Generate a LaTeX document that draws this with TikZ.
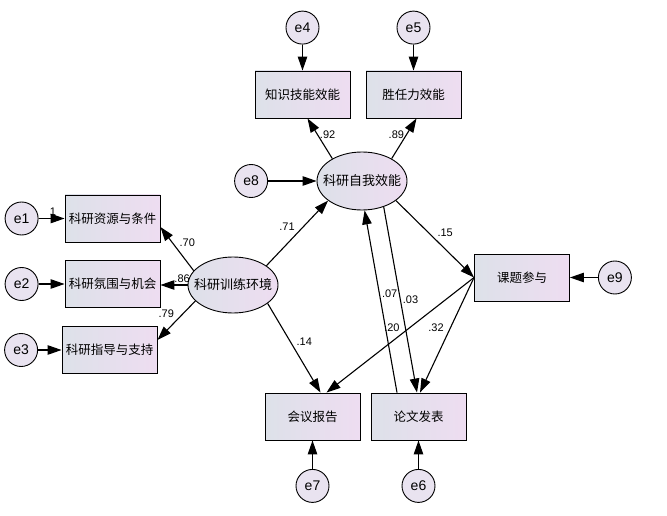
\documentclass[tikz,border=0pt]{standalone}
\usepackage{fontspec}
\setmainfont{Liberation Sans}
\newfontfamily\cjk{Noto Sans CJK SC}
\usetikzlibrary{positioning, shapes.geometric, arrows.meta}
\definecolor{boxl}{RGB}{221,225,233}
\definecolor{boxr}{RGB}{238,221,241}
\definecolor{errc}{RGB}{233,227,240}

\begin{document}
\begin{tikzpicture}[x=1pt, y=-1pt, node distance=26pt,
    >={Triangle[length=14pt, width=9.5pt]},
    obs/.style={draw, line width=0.9pt, minimum width=95pt, minimum height=47pt, left color=boxl, right color=boxr, font=\cjk\fontsize{12.5}{14}\selectfont},
    lat/.style={draw, ellipse, line width=0.9pt, minimum width=90pt, minimum height=56pt, inner sep=-8pt, left color=boxl, right color=boxr, font=\cjk\fontsize{13}{15}\selectfont},
    err/.style={draw, circle, line width=0.9pt, minimum size=33pt, inner sep=0pt, fill=errc, font=\fontsize{14}{16}\selectfont},
    coef/.style={font=\fontsize{11}{13}\selectfont, inner sep=2pt}]
    \useasboundingbox (0,0) rectangle (667,516);
    \node[lat] (env) at (233,285) {科研训练环境};
    \node[lat, minimum height=58pt] (self) at (362,181) {科研自我效能};
    \node[obs] (res) at (112.5,218.5) {科研资源与条件};
    \node[obs] (atm) at (112.5,284) {科研氛围与机会};
    \node[obs] (guide) at (109.5,350) {科研指导与支持};
    \node[obs] (know) at (302.5,94.5) {知识技能效能};
    \node[obs] (comp) at (413.5,94.5) {胜任力效能};
    \node[obs] (topic) at (522,277.5) {课题参与};
    \node[obs] (conf) at (312.5,416.5) {会议报告};
    \node[obs] (paper) at (418.5,416.5) {论文发表};
    % errors
    \node[err, left=of res] (e1) {e1};
    \node[err, left=of atm] (e2) {e2};
    \node[err, left=23.5pt of guide] (e3) {e3};
    \node[err, above=of know] (e4) {e4};
    \node[err, above=of comp] (e5) {e5};
    \node[err, below=28.5pt of paper] (e6) {e6};
    \node[err, below=28.5pt of conf] (e7) {e7};
    \node[err, left=48.5pt of self] (e8) {e8};
    \node[err, right=28pt of topic] (e9) {e9};

    \draw[->, line width=1.1pt] (e1) -- node[coef, pos=.55, above] {1} (res);
    \draw[->, line width=1.1pt] (e2) -- (atm);
    \draw[->, line width=1.1pt] (e3) -- (guide);
    \draw[->, line width=1.1pt] (e4) -- (know);
    \draw[->, line width=1.1pt] (e5) -- (comp);
    \draw[->, line width=1.1pt] (e6) -- (paper);
    \draw[->, line width=1.1pt] (e7) -- (conf);
    \draw[->, line width=1.1pt] (e8) -- (e8 -| self.west);
    \draw[->, line width=1.1pt] (e9) -- (topic);

    \draw[->, line width=1.1pt] (env.160) -- node[coef, pos=.5, above right] {.70} ([yshift=-8.5pt]res.east);
    \draw[->, line width=1.1pt] (env.west) -- node[coef, pos=.2, above] {.86} (env.west -| atm.east);
    \draw[->, line width=1.1pt] (env.203) -- node[coef, pos=.5, above left] {.79} ([yshift=10pt]guide.east);
    \draw[->, line width=1.1pt] (env.30) -- node[coef, pos=.5, above left] {.71} (self.210);
    \draw[->, line width=1.1pt] (env.-28) -- node[coef, pos=.5, above right] {.14} ([xshift=8pt]conf.north);
    \draw[->, line width=1.1pt] (self.143) -- node[coef, pos=.6, right] {.92} ([xshift=5pt]know.south);
    \draw[->, line width=1.1pt] (self.37) -- node[coef, pos=.6, left] {.89} ([xshift=3pt]comp.south);
    \draw[->, line width=1.1pt] (self.-30) -- node[coef, pos=.5, above right] {.15} (topic.west);
    \draw[->, line width=1.1pt] (self.-50) -- node[coef, pos=.5, right] {.03} ([xshift=-1.5pt]paper.north);
    \draw[->, line width=1.1pt] ([xshift=-21.5pt]paper.north) -- node[coef, pos=.54, right] {.07} (self.-85);
    \draw[->, line width=1.1pt] (topic.west) -- node[coef, pos=.44, left=7pt] {.20} ([xshift=14pt]conf.north);
    \draw[->, line width=1.1pt] (topic.west) -- node[coef, pos=.44, left=4pt] {.32} ([xshift=1.5pt]paper.north);
\end{tikzpicture}
\end{document}
